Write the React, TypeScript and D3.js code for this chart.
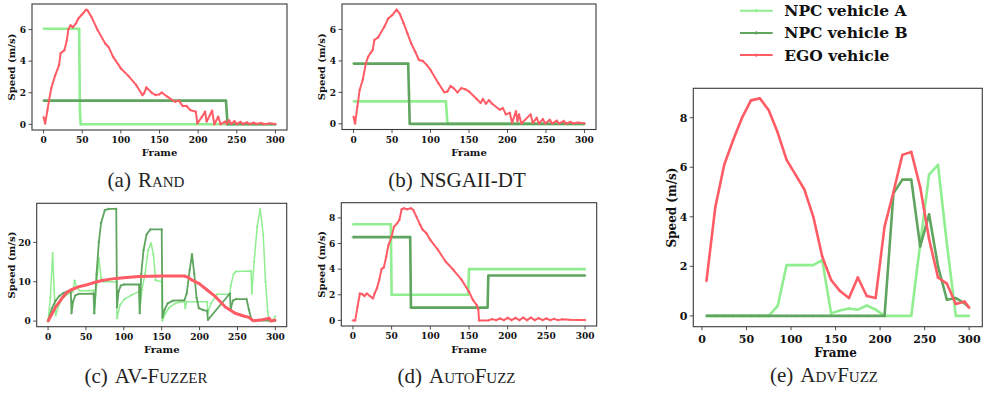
import React from 'react';
import * as d3 from 'd3';

type Pt = [number, number];

const frameTicks = [0, 50, 100, 150, 200, 250, 300];

// (a) Rand
const randA: Pt[] = [[0, 6.05], [46, 6.05], [47, 0.9], [48, 0], [300, 0]];
const randB: Pt[] = [[0, 1.5], [236, 1.5], [237, 0.8], [238, 0], [300, 0]];
const randEgo: Pt[] = [
  [0, 0.45], [2, 0.05], [5, 0.9], [7, 1.5], [10, 2.3], [15, 3.1], [20, 3.75], [22, 4.5], [27, 4.7], [30, 5.3],
  [32, 6.0], [35, 6.27], [38, 6.15], [42, 6.4], [45, 6.7], [50, 6.97], [55, 7.26], [57, 7.2], [62, 6.8], [70, 5.96],
  [80, 5.1], [84, 4.9], [90, 4.27], [100, 3.54], [110, 3.05], [120, 2.48], [128, 1.85], [130, 1.96], [133, 2.34],
  [140, 2.0], [145, 1.85], [150, 1.9], [153, 2.02], [160, 1.75], [170, 1.43], [175, 1.5], [180, 1.16], [185, 1.16],
  [190, 0.9], [197, 0.8], [199, 0.06], [205, 0.48], [209, 0.8], [211, 0.17], [218, 0.86], [221, 0], [226, 0.48],
  [229, 0], [235, 0.17], [237, 0.02], [240, 0.25], [243, 0.03], [247, 0.2], [250, 0.02], [255, 0.15], [258, 0.02],
  [263, 0.12], [266, 0.02], [272, 0.1], [275, 0.02], [282, 0.08], [285, 0.01], [292, 0.06], [300, 0.02],
];

// (b) NSGAII-DT
const nsgaA: Pt[] = [[0, 1.43], [120, 1.43], [121, 0.7], [122, 0], [300, 0]];
const nsgaB: Pt[] = [[0, 3.83], [71, 3.83], [72, 1.9], [73, 0], [300, 0]];
const nsgaEgo: Pt[] = [
  [0, 0.45], [2, 0.02], [5, 1.1], [8, 2.17], [12, 2.8], [16, 3.85], [19, 4.27], [22, 4.5], [25, 4.7], [27, 5.33],
  [32, 5.5], [40, 6.17], [45, 6.7], [50, 6.9], [56, 7.26], [60, 7.0], [65, 6.4], [70, 5.75], [75, 5.1], [80, 4.6],
  [85, 4.06], [90, 4.0], [95, 3.75], [100, 3.43], [110, 2.6], [118, 2.0], [122, 2.06], [126, 2.4], [130, 2.27],
  [135, 2.0], [140, 2.27], [145, 2.2], [150, 2.06], [160, 1.58], [165, 1.33], [168, 1.58], [172, 1.28], [176, 1.5],
  [180, 1.28], [190, 0.9], [194, 1.0], [198, 0.6], [203, 0.7], [206, 0.06], [211, 0.8], [213, 0.17], [215, 0.6],
  [218, 0.02], [230, 0.6], [233, 0.06], [238, 0.38], [241, 0.02], [246, 0.3], [249, 0.02], [255, 0.25], [258, 0.02],
  [264, 0.2], [267, 0.02], [273, 0.18], [276, 0.02], [282, 0.12], [285, 0.02], [292, 0.08], [300, 0.03],
];

// (c) AV-Fuzzer
const avA: Pt[] = [
  [0, 0], [3, 6], [6, 17.3], [8, 8], [10, 1.5], [14, 4.0], [20, 6.0], [30, 7.3], [33, 7.5], [35, 10.3], [38, 8.5],
  [42, 7.7], [60, 7.8], [61, 2.0], [64, 9], [67, 16.0], [70, 11.0], [73, 10.0], [90, 10.0], [91, 0.7], [95, 4.1],
  [101, 5.6], [110, 6.6], [120, 7.5], [121, 2.5], [124, 8], [128, 12], [132, 18.0], [136, 19.8], [139, 17],
  [142, 10.4], [150, 10.0], [151, 0.1], [155, 2.0], [160, 3.4], [167, 4.4], [175, 4.9], [180, 4.9], [181, 3.3],
  [183, 4.9], [210, 4.9], [211, 2.0], [215, 4.5], [223, 6.8], [240, 6.8], [241, 9.0], [245, 12.0], [248, 12.6],
  [268, 12.7], [269, 7.0], [272, 15], [276, 24], [280, 28.5], [284, 22], [287, 10], [290, 2.4], [292, 0],
  [297, 0.3], [300, 1.2],
];
const avB: Pt[] = [
  [0, 0], [5, 3.2], [10, 5.2], [15, 6.4], [20, 7.1], [25, 7.5], [30, 7.6], [31, 2.0], [33, 5.0], [36, 6.5],
  [40, 6.9], [60, 7.0], [61, 2.0], [64, 12], [67, 20], [70, 25], [75, 28.2], [80, 28.5], [90, 28.5], [91, 3.5],
  [93, 7.5], [96, 9.0], [100, 9.3], [120, 9.3], [121, 2.0], [123, 12], [126, 18], [130, 22], [135, 23.3],
  [150, 23.3], [151, 0.9], [154, 3.0], [158, 4.5], [165, 5.2], [180, 5.3], [183, 7.0], [187, 13], [190, 17.0],
  [193, 12], [196, 6], [199, 3.3], [205, 2.8], [210, 2.6], [211, 0.3], [240, 7.0], [241, 3.0], [244, 5.2],
  [248, 5.6], [262, 5.6], [265, 3.0], [268, 0.7], [270, 0.1], [300, 0.1],
];
const avEgo: Pt[] = [
  [0, 0], [5, 1.8], [10, 3.6], [15, 4.9], [20, 6.2], [25, 7.3], [30, 7.9], [40, 8.7], [50, 9.15], [60, 9.75],
  [70, 10.25], [80, 10.6], [90, 10.85], [100, 11.0], [120, 11.3], [150, 11.45], [180, 11.45], [185, 11.1],
  [190, 10.4], [199, 9.6], [210, 7.9], [221, 6.2], [234, 3.6], [247, 2.0], [258, 1.3], [265, 0.95], [271, 0.1],
  [280, 0.25], [292, 0.7], [294, 0.05], [297, 0.1], [300, 0.3],
];

// (d) AutoFuzz
const autoA: Pt[] = [[0, 7.5], [49, 7.5], [50, 2.0], [149, 2.0], [150, 4.0], [300, 4.0]];
const autoB: Pt[] = [[0, 6.5], [74, 6.5], [75, 1.0], [174, 1.0], [175, 3.5], [300, 3.5]];
const autoEgo: Pt[] = [
  [0, 0], [3, 0], [6, 1.07], [9, 2.1], [12, 2.05], [15, 1.9], [18, 2.1], [22, 1.9], [26, 1.72], [28, 2.1],
  [31, 2.5], [34, 3.15], [37, 4.0], [40, 4.14], [43, 4.97], [46, 5.9], [50, 6.54], [53, 7.3], [57, 7.58],
  [60, 7.84], [63, 8.67], [66, 8.75], [70, 8.67], [75, 8.75], [78, 8.62], [82, 8.1], [87, 7.45], [90, 7.1],
  [95, 6.8], [100, 6.28], [110, 5.5], [120, 4.58], [130, 3.93], [140, 3.2], [150, 2.24], [155, 1.6], [160, 1.2],
  [162, 0.86], [163, 0], [175, 0], [180, 0.1], [185, 0.02], [190, 0.15], [195, 0.02], [200, 0.2], [205, 0.02],
  [210, 0.2], [215, 0.02], [220, 0.22], [225, 0.02], [230, 0.22], [235, 0.02], [240, 0.18], [245, 0.02],
  [250, 0.15], [255, 0.02], [260, 0.12], [265, 0.02], [270, 0.08], [280, 0.05], [290, 0.04], [300, 0.03],
];

// (e) AdvFuzz, sampled every 10 frames
const advFrames = [5, 15, 25, 35, 45, 55, 65, 75, 85, 95, 105, 115, 125, 135, 145, 155, 165, 175, 185, 195,
  205, 215, 225, 235, 245, 255, 265, 275, 285, 295, 300];
const advA = [0, 0, 0, 0, 0, 0, 0, 0, 0.4, 2.05, 2.05, 2.05, 2.05, 2.25, 0.1, 0.22, 0.3, 0.25, 0.42, 0.25,
  0, 0, 0, 0, 2.9, 5.7, 6.1, 2.9, 0, 0, 0];
const advB = [0, 0, 0, 0, 0, 0, 0, 0, 0, 0, 0, 0, 0, 0, 0, 0, 0, 0, 0, 0,
  0, 4.95, 5.5, 5.5, 2.8, 4.1, 2.0, 0.65, 0.72, 0.5, 0.35];
const advEgo = [1.4, 4.4, 6.1, 7.1, 8.0, 8.7, 8.78, 8.3, 7.4, 6.3, 5.7, 5.1, 4.0, 2.4, 1.45, 1.0, 0.72, 1.55,
  0.8, 0.72, 3.6, 5.0, 6.5, 6.62, 5.2, 3.1, 1.55, 1.3, 0.48, 0.58, 0.32];

const legendLabels = ['NPC vehicle A', 'NPC vehicle B', 'EGO vehicle'];
const colorA = '#90ee90';
const colorB = '#5fa55f';
const colorEgo = '#ff5c66';
const seriesColors = [colorA, colorB, colorEgo];

const FONT = "'DejaVu Serif', serif";
const CAP_FONT = "'Liberation Serif', 'Times New Roman', serif";

const zip = (xs: number[], ys: number[]): Pt[] => xs.map((f, i) => [f, ys[i]]);

type PanelProps = {
  id: string;
  box: { l: number; r: number; t: number; b: number };
  xDomain: [number, number];
  yDomain: [number, number];
  yTicks: number[];
  data: Pt[][];
  widths: number[];
  tickSize: number;
  labelSize: number;
  yLabelX: number;
  xLabelY: number;
  xTickY: number;
};

function Panel(p: PanelProps) {
  const x = d3.scaleLinear().domain(p.xDomain).range([p.box.l, p.box.r]);
  const y = d3.scaleLinear().domain(p.yDomain).range([p.box.b, p.box.t]);
  const line = d3.line<Pt>().x(d => x(d[0])).y(d => y(d[1]));
  const cy = (p.box.t + p.box.b) / 2;
  return (
    <g>
      <defs>
        <clipPath id={`clip-${p.id}`}>
          <rect x={p.box.l} y={p.box.t} width={p.box.r - p.box.l} height={p.box.b - p.box.t} />
        </clipPath>
      </defs>
      <g clipPath={`url(#clip-${p.id})`}>
        {p.data.map((s, i) => (
          <g key={i}>
            <path d={line(s) || ''} fill="none" stroke={seriesColors[i]} strokeWidth={p.widths[i]}
              strokeLinejoin="round" />
            {s.map((d, j) => (
              <path key={j} d={`M${x(d[0]) - 1.3},${y(d[1])}h2.6M${x(d[0])},${y(d[1]) - 1.3}v2.6`}
                stroke={seriesColors[i]} strokeWidth={0.8} />
            ))}
          </g>
        ))}
      </g>
      <rect x={p.box.l} y={p.box.t} width={p.box.r - p.box.l} height={p.box.b - p.box.t}
        fill="none" stroke="#3a3a3a" strokeWidth={1.1} />
      {frameTicks.map(t => (
        <g key={t}>
          <line x1={x(t)} x2={x(t)} y1={p.box.b} y2={p.box.b + 3.5} stroke="#3a3a3a" strokeWidth={0.9} />
          <text x={x(t)} y={p.xTickY} textAnchor="middle" fontFamily={FONT} fontWeight="bold"
            fontSize={p.tickSize} fill="#111">{t}</text>
        </g>
      ))}
      {p.yTicks.map(t => (
        <g key={t}>
          <line x1={p.box.l - 3.5} x2={p.box.l} y1={y(t)} y2={y(t)} stroke="#3a3a3a" strokeWidth={0.9} />
          <text x={p.box.l - 6} y={y(t)} dy="0.36em" textAnchor="end" fontFamily={FONT} fontWeight="bold"
            fontSize={p.tickSize} fill="#111">{t}</text>
        </g>
      ))}
      <text x={(x(0) + x(300)) / 2} y={p.xLabelY} textAnchor="middle" fontFamily={FONT} fontWeight="bold"
        fontSize={p.labelSize} fill="#111">Frame</text>
      <text transform={`translate(${p.yLabelX},${cy}) rotate(-90)`} textAnchor="middle"
        dominantBaseline="central" fontFamily={FONT} fontWeight="bold" fontSize={p.labelSize}
        fill="#111">Speed (m/s)</text>
    </g>
  );
}

function Caption({ x, y, tag, name }: { x: number; y: number; tag: string; name: string }) {
  return (
    <text x={x} y={y} textAnchor="middle" fontFamily={CAP_FONT} fontSize={21} fill="#222">
      {`(${tag})`}<tspan dx={7} style={{ fontVariant: 'small-caps' }}>{name}</tspan>
    </text>
  );
}

export default function App() {
  const small = { tickSize: 9, labelSize: 10 };
  return (
    <div style={{ position: 'absolute', left: 0, top: 0 }}>
      <svg width={984} height={393} style={{ display: 'block', background: '#fff' }}>
        <Panel id="a" box={{ l: 32, r: 287, t: 4, b: 130 }} xDomain={[-15, 315]} yDomain={[-0.36, 7.62]}
          yTicks={[0, 2, 4, 6]} data={[randA, randB, randEgo]} widths={[2.6, 2.6, 2]} {...small}
          yLabelX={11.5} xLabelY={156} xTickY={142.7} />
        <Panel id="b" box={{ l: 342, r: 596, t: 4, b: 129.5 }} xDomain={[-15, 315]} yDomain={[-0.36, 7.62]}
          yTicks={[0, 2, 4, 6]} data={[nsgaA, nsgaB, nsgaEgo]} widths={[2.6, 2.6, 2]} {...small}
          yLabelX={321.7} xLabelY={156} xTickY={142.7} />
        <Panel id="c" box={{ l: 36.7, r: 286.7, t: 203.3, b: 326.7 }} xDomain={[-15, 315]}
          yDomain={[-1.425, 29.925]} yTicks={[0, 10, 20]} data={[avA, avB, avEgo]} widths={[1.5, 1.8, 3]}
          {...small} yLabelX={11.5} xLabelY={352.5} xTickY={339.5} />
        <Panel id="d" box={{ l: 341.3, r: 596.7, t: 202.7, b: 326 }} xDomain={[-15, 315]}
          yDomain={[-0.4375, 9.1875]} yTicks={[0, 2, 4, 6, 8]} data={[autoA, autoB, autoEgo]}
          widths={[2.6, 2.6, 2]} {...small} yLabelX={321.7} xLabelY={352.5} xTickY={339} />
        <Panel id="e" box={{ l: 693.3, r: 982.3, t: 88.3, b: 326.7 }} xDomain={[-9.75, 314.75]}
          yDomain={[-0.4375, 9.1875]} yTicks={[0, 2, 4, 6, 8]}
          data={[zip(advFrames, advA), zip(advFrames, advB), zip(advFrames, advEgo)]}
          widths={[2.6, 2.6, 2.6]} tickSize={11} labelSize={12} yLabelX={671.7} xLabelY={356.5} xTickY={342.7} />

        {legendLabels.map((l, i) => {
          const ly = 10.7 + i * 22.2;
          return (
            <g key={l}>
              <line x1={740} x2={772.7} y1={ly} y2={ly} stroke={seriesColors[i]} strokeWidth={2} />
              <circle cx={756.3} cy={ly} r={1.6} fill={seriesColors[i]} />
              <text x={784.3} y={ly} dy="0.36em" fontFamily={FONT} fontWeight="bold" fontSize={15.5}
                fill="#111">{l}</text>
            </g>
          );
        })}

        <Caption x={146} y={187} tag="a" name="Rand" />
        <Caption x={457} y={187} tag="b" name="NSGAII-DT" />
        <Caption x={146} y={383} tag="c" name="AV-Fuzzer" />
        <Caption x={456.5} y={383} tag="d" name="AutoFuzz" />
        <Caption x={824} y={382} tag="e" name="AdvFuzz" />
      </svg>
    </div>
  );
}
